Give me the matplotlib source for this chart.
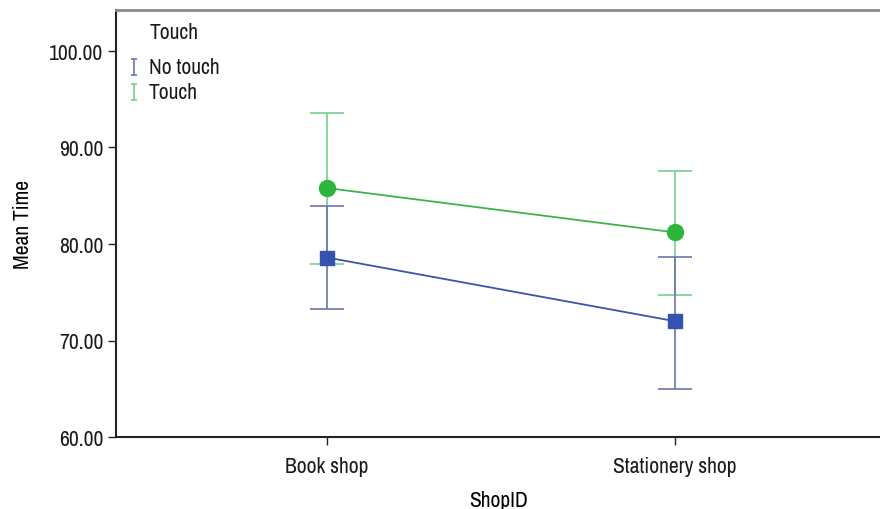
import numpy as np
import matplotlib.pyplot as plt
from matplotlib import font_manager

# narrow sans for all text, first one that is installed
names = {f.name for f in font_manager.fontManager.ttflist}
wanted = ['Liberation Sans Narrow', 'Arial Narrow', 'Archivo Narrow',
          'PT Sans Narrow', 'Roboto Condensed', 'Open Sans Condensed']
narrow = [n for n in wanted if n in names]
if narrow:
    plt.rcParams['font.family'] = [narrow[0], 'DejaVu Sans']
    fs = 15.5
else:
    plt.rcParams['font.family'] = ['Liberation Sans', 'DejaVu Sans']
    fs = 12.5
plt.rcParams['font.weight'] = 'light'
plt.rcParams['axes.labelweight'] = 'light'
plt.rcParams['text.color'] = '#1a1a1a'
plt.rcParams['xtick.labelcolor'] = '#1a1a1a'
plt.rcParams['ytick.labelcolor'] = '#1a1a1a'

shops = ['Book shop', 'Stationery shop']
groups = ['No touch', 'Touch']

mean_no_touch = [78.6, 72.0]
low_no_touch = [73.3, 65.0]
high_no_touch = [83.9, 78.7]

mean_touch = [85.8, 81.2]
low_touch = [77.9, 74.7]
high_touch = [93.6, 87.6]

yticks = [60, 70, 80, 90, 100]

line_col = {'No touch': '#3b55a8', 'Touch': '#3cb44b'}
err_col = {'No touch': '#6b76ab', 'Touch': '#74cf8c'}
mark_col = {'No touch': '#3553ad', 'Touch': '#2db53c'}

fig = plt.figure(figsize=(8.8, 5.1), dpi=100)
ax = fig.add_axes([116/880, 72/510, 1 - 116/880, (438 - 10.5)/510])

x = np.arange(len(shops))
series = [('Touch', mean_touch, low_touch, high_touch, 'o', 11.5),
          ('No touch', mean_no_touch, low_no_touch, high_no_touch, 's', 9.5)]
for name, m, lo, hi, mk, ms in series:
    m = np.array(m)
    yerr = [m - np.array(lo), np.array(hi) - m]
    ax.errorbar(x, m, yerr=yerr, fmt='none', ecolor=err_col[name],
                elinewidth=1.2, capsize=12.5, capthick=1.2, zorder=2)
    ax.plot(x, m, color=line_col[name], lw=1.3, zorder=3)
    ax.plot(x, m, mk, color=mark_col[name], ms=ms, zorder=4, mec=mark_col[name])

ax.set_xlim(-(327 - 116)/348, 1 + (880 - 675)/348)
ax.set_ylim(60, 60 + (438 - 10.5)/9.65)
ax.set_xticks(x)
ax.set_xticklabels(shops, fontsize=fs)
ax.set_yticks(yticks)
ax.set_yticklabels(['%.2f' % v for v in yticks], fontsize=fs)
ax.tick_params(length=6, width=1, color='#222222', pad=3)
ax.tick_params(axis='x', pad=8)
ax.set_xlabel('ShopID', fontsize=fs, labelpad=10)
ax.set_ylabel('Mean Time', fontsize=fs, labelpad=12)

ax.spines['right'].set_visible(False)
ax.spines['top'].set_color('#888888')
ax.spines['top'].set_linewidth(2)
ax.spines['left'].set_color('#222222')
ax.spines['bottom'].set_color('#222222')
ax.spines['left'].set_linewidth(1.5)
ax.spines['bottom'].set_linewidth(1.5)

# legend drawn by hand: title plus small error bar glyphs
tr = ax.transAxes
def fx(px):
    return (px - 116) / (880 - 116)
def fy(py):
    return (438 - py) / (438 - 10.5)
ax.text(fx(150), fy(33), 'Touch', transform=tr, fontsize=fs, va='center')
for i, name in enumerate(groups):
    yy = fy(68 + 25 * i)
    ax.errorbar([fx(134)], [yy], yerr=[[0.018], [0.018]], fmt='none',
                ecolor=err_col[name], elinewidth=1.2, capsize=2.5, capthick=1.2,
                transform=tr, clip_on=False)
    ax.text(fx(149), yy, name, transform=tr, fontsize=fs, va='center')

fig.savefig('out.png', dpi=100)
